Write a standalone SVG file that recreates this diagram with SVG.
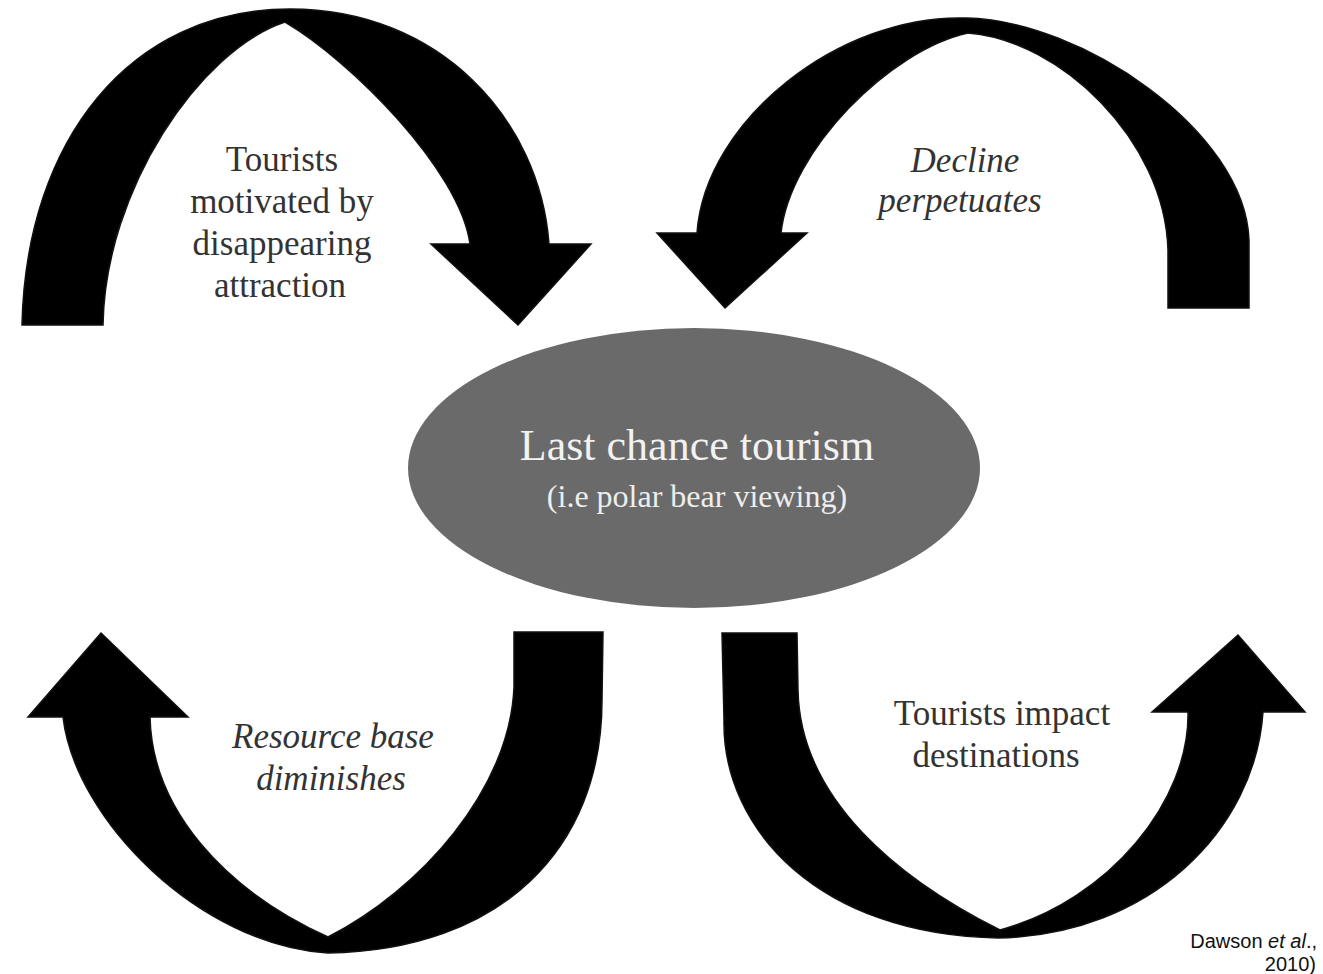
<svg xmlns="http://www.w3.org/2000/svg" width="1323" height="974" viewBox="0 0 1323 974">
<style>
.arrow{fill:#000;stroke:#111;stroke-width:1.5;stroke-linejoin:miter}
.lbl{font-family:"Liberation Serif","Times New Roman",serif;font-size:35px;fill:#333;text-anchor:middle}
.it{font-style:italic}
.c1{font-family:"Liberation Serif","Times New Roman",serif;font-size:44px;fill:#f2f2f2;text-anchor:middle}
.c2{font-family:"Liberation Serif","Times New Roman",serif;font-size:32px;fill:#eeeeee;text-anchor:middle}
.cite{font-family:"Liberation Sans",Arial,sans-serif;font-size:20px;fill:#111;text-anchor:end}
</style>
<rect width="1323" height="974" fill="#fff"/>
<g id="connectors">
  <path id="arrow-top-left" class="arrow" d="M22,325 C26,140 130,9 290,9 C440,9 540,120 549,244 L591,244 L518,325 L431,244 L470,244 C460,170 350,60 285,22 C200,50 105,190 103,325 Z"/>
  <path id="arrow-top-right" class="arrow" d="M1249,308 L1249,240 C1245,130 1080,20 966,18 C840,14 705,120 697,233 L657,233 L725,308 L807,233 L781,233 C790,150 890,50 968,33 C1060,40 1165,140 1168,250 L1168,308 Z"/>
  <path id="arrow-bottom-left" class="arrow" d="M101,633 L188,717 L150,717 C152,810 225,890 328,937 C420,890 510,790 514,687 L514,632 L603,632 L602,700 C602,850 500,950 328,953 C200,945 75,820 63,717 L28,717 Z"/>
  <path id="arrow-bottom-right" class="arrow" d="M722,633 L797,633 L798,690 C800,800 900,880 1000,930 C1110,900 1190,800 1188,712 L1152,712 L1238,635 L1305,712 L1263,712 C1255,830 1150,935 998,938 C820,935 722,830 724,720 Z"/>
</g>
<g id="label-top-left">
  <text class="lbl" x="282" y="171">Tourists</text>
  <text class="lbl" x="282" y="213">motivated by</text>
  <text class="lbl" x="282" y="255">disappearing</text>
  <text class="lbl" x="280" y="297">attraction</text>
</g>
<g id="label-top-right">
  <text class="lbl it" x="965" y="172">Decline</text>
  <text class="lbl it" x="960" y="212">perpetuates</text>
</g>
<g id="label-bottom-left">
  <text class="lbl it" x="333" y="748">Resource base</text>
  <text class="lbl it" x="331" y="790">diminishes</text>
</g>
<g id="label-bottom-right">
  <text class="lbl" x="1002" y="725">Tourists impact</text>
  <text class="lbl" x="996" y="767">destinations</text>
</g>
<g id="node-last-chance-tourism">
  <ellipse cx="694" cy="468" rx="286" ry="140" fill="#6a6a6a"/>
  <text class="c1" x="697" y="460">Last chance tourism</text>
  <text class="c2" x="697" y="507">(i.e polar bear viewing)</text>
</g>
<g id="citation">
  <text class="cite" x="1317" y="948">Dawson <tspan font-style="italic">et al</tspan>.,</text>
  <text class="cite" x="1316" y="971">2010)</text>
</g>
</svg>
